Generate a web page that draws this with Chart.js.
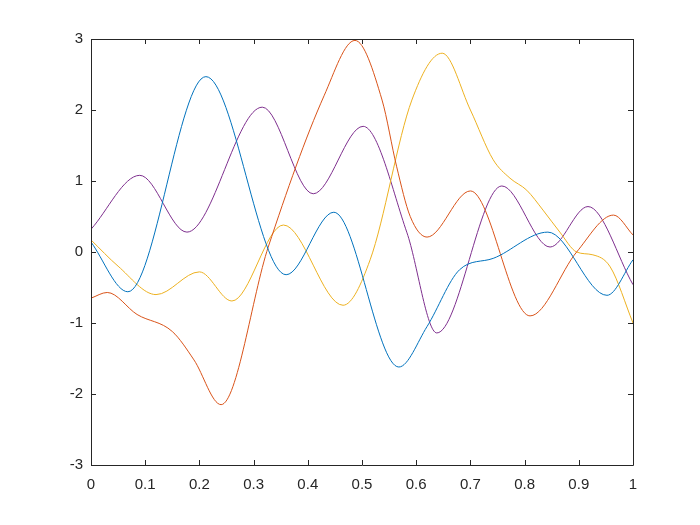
<!DOCTYPE html>
<html>
<head>
<meta charset="utf-8">
<script src="https://cdn.jsdelivr.net/npm/chart.js@4/dist/chart.umd.min.js"></script>
<style>
  html, body { margin: 0; padding: 0; background: #fff; }
  canvas { display: block; }
</style>
</head>
<body>
<canvas id="chart1" width="700" height="525"></canvas>
<script>
// values (peaks, troughs and shoulders)
var blueX = [0, 0.068, 0.212, 0.36, 0.448, 0.568, 0.62, 0.68, 0.742, 0.843, 0.952, 1];
var blueY = [0.14, -0.56, 2.47, -0.32, 0.56, -1.62, -1.05, -0.25, -0.09, 0.28, -0.61, -0.11];

var redX = [0, 0.03, 0.085, 0.15, 0.19, 0.24, 0.327, 0.43, 0.487, 0.537, 0.564, 0.589, 0.62, 0.70, 0.81, 0.896, 0.964, 1];
var redY = [-0.65, -0.57, -0.88, -1.12, -1.52, -2.15, 0.07, 2.2, 2.98, 2.14, 1.2, 0.5, 0.21, 0.86, -0.9, 0.0, 0.52, 0.24];

var yellowX = [0, 0.05, 0.12, 0.2, 0.26, 0.355, 0.465, 0.515, 0.592, 0.648, 0.70, 0.742, 0.773, 0.804, 0.834, 0.865, 0.896, 0.926, 0.958, 1];
var yellowY = [0.17, -0.2, -0.6, -0.28, -0.69, 0.38, -0.75, -0.11, 2.14, 2.8, 2.0, 1.3, 1.04, 0.87, 0.59, 0.28, 0.0, -0.04, -0.21, -1.0];

var purpleX = [0, 0.09, 0.177, 0.316, 0.41, 0.502, 0.583, 0.638, 0.758, 0.847, 0.917, 1];
var purpleY = [0.32, 1.08, 0.28, 2.04, 0.82, 1.77, 0.27, -1.14, 0.93, 0.07, 0.64, -0.46];

var xTicks = [0, 0.1, 0.2, 0.3, 0.4, 0.5, 0.6, 0.7, 0.8, 0.9, 1];
var yTicks = [-3, -2, -1, 0, 1, 2, 3];

function toPoints(xs, ys) {
  var pts = [];
  for (let i = 0; i < xs.length; i++) {
    pts.push({ x: xs[i], y: ys[i] });
  }
  return pts;
}

function line(xs, ys, color) {
  return {
    data: toPoints(xs, ys),
    borderColor: color,
    borderWidth: 1,
    pointRadius: 0,
    fill: false,
    cubicInterpolationMode: 'monotone'
  };
}

var axisColor = '#262626';

// box round the plot with inward ticks on all four sides
var boxPlugin = {
  id: 'box',
  afterDatasetsDraw: function (chart) {
    var ctx = chart.ctx;
    var a = chart.chartArea;
    var xs = chart.scales.x;
    var ys = chart.scales.y;
    var len = 5;
    ctx.save();
    ctx.strokeStyle = axisColor;
    ctx.lineWidth = 1;
    ctx.beginPath();
    ctx.rect(Math.round(a.left) + 0.5, Math.round(a.top) + 0.5, Math.round(a.right - a.left), Math.round(a.bottom - a.top));
    for (let i = 0; i < xTicks.length; i++) {
      var px = Math.round(xs.getPixelForValue(xTicks[i])) + 0.5;
      ctx.moveTo(px, a.bottom);
      ctx.lineTo(px, a.bottom - len);
      ctx.moveTo(px, a.top);
      ctx.lineTo(px, a.top + len);
    }
    for (let i = 0; i < yTicks.length; i++) {
      var py = Math.round(ys.getPixelForValue(yTicks[i])) + 0.5;
      ctx.moveTo(a.left, py);
      ctx.lineTo(a.left + len, py);
      ctx.moveTo(a.right, py);
      ctx.lineTo(a.right - len, py);
    }
    ctx.stroke();
    ctx.restore();
  }
};

var ctx1 = document.getElementById('chart1').getContext('2d');
var chart1 = new Chart(ctx1, {
  type: 'line',
  data: {
    datasets: [
      line(blueX, blueY, '#0072BD'),
      line(redX, redY, '#D95319'),
      line(yellowX, yellowY, '#EDB120'),
      line(purpleX, purpleY, '#7E2F8E')
    ]
  },
  options: {
    responsive: false,
    animation: false,
    devicePixelRatio: 1,
    layout: { padding: { top: 39, right: 67, left: 0, bottom: 0 } },
    plugins: { legend: { display: false }, tooltip: { enabled: false } },
    scales: {
      x: {
        type: 'linear',
        min: 0,
        max: 1,
        afterFit: function (scale) { scale.height = 60; },
        afterBuildTicks: function (scale) {
          scale.ticks = xTicks.map(function (v) { return { value: v }; });
        },
        grid: { display: false, drawTicks: false },
        border: { display: false },
        ticks: {
          padding: 11,
          color: axisColor,
          maxRotation: 0,
          font: { family: 'Liberation Sans, Arial, sans-serif', size: 15 },
          callback: function (v) { return String(Math.round(v * 10) / 10); }
        }
      },
      y: {
        type: 'linear',
        min: -3,
        max: 3,
        afterFit: function (scale) { scale.width = 91; },
        afterBuildTicks: function (scale) {
          scale.ticks = yTicks.map(function (v) { return { value: v }; });
        },
        grid: { display: false, drawTicks: false },
        border: { display: false },
        ticks: {
          padding: 8,
          color: axisColor,
          font: { family: 'Liberation Sans, Arial, sans-serif', size: 15 },
          callback: function (v) { return String(v); }
        }
      }
    }
  },
  plugins: [boxPlugin]
});
</script>
</body>
</html>
